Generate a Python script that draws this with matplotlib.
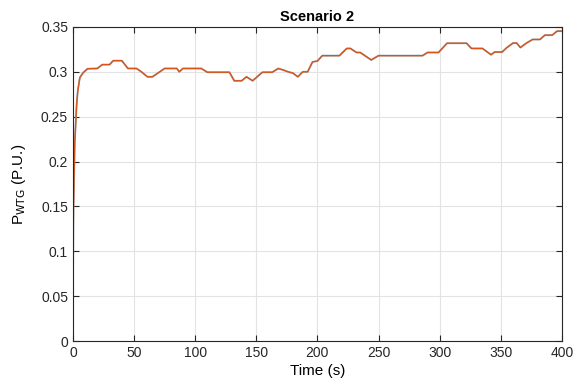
import matplotlib.pyplot as plt

# breakpoints (time in s, power in p.u.)
time_s = [0, 0.5, 1.5, 3, 4, 5.7, 8.4, 12, 20, 24, 30, 33, 40, 45, 52, 56, 61, 65,
          70, 75, 85, 87, 90, 105, 110, 128, 132, 138, 142, 147, 155, 163, 168,
          172, 176, 180, 184, 188, 192, 196, 200, 204, 218, 224, 227, 232, 235,
          244, 250, 286, 290, 299, 306, 322, 326, 335, 342, 345, 351, 355, 360,
          363, 366, 371, 376, 382, 386, 392, 396, 400]
p_wtg = [0.05, 0.15, 0.22, 0.262, 0.279, 0.2936, 0.299, 0.3034, 0.3037, 0.308, 0.308,
         0.3124, 0.3124, 0.3037, 0.3037, 0.300, 0.2944, 0.2944, 0.299, 0.3037, 0.3037,
         0.300, 0.3037, 0.3037, 0.2995, 0.2995, 0.290, 0.290, 0.2944, 0.290, 0.2995,
         0.2995, 0.3037, 0.302, 0.300, 0.2985, 0.2944, 0.300, 0.300, 0.311, 0.312,
         0.318, 0.318, 0.326, 0.326, 0.3215, 0.3215, 0.3132, 0.318, 0.318, 0.3215,
         0.3215, 0.3318, 0.3318, 0.326, 0.326, 0.319, 0.322, 0.322, 0.327, 0.332,
         0.332, 0.327, 0.332, 0.336, 0.336, 0.3408, 0.3408, 0.3453, 0.3453]

x_ticks = [0, 50, 100, 150, 200, 250, 300, 350, 400]
y_ticks = [0, 0.05, 0.1, 0.15, 0.2, 0.25, 0.3, 0.35]

plt.rcParams['font.family'] = ['Liberation Sans', 'DejaVu Sans']
plt.rcParams['font.size'] = 10

fig = plt.figure(figsize=(5.74, 3.79), dpi=100)
ax = fig.add_axes([0.127, 0.100, 0.852, 0.829])

ax.plot(time_s, p_wtg, color='#9a9a9a', linewidth=1.3)
ax.plot(time_s, p_wtg, color='#D95319', linewidth=0.9)

ax.set_xlim(0, 400)
ax.set_ylim(0, 0.35)
ax.set_xticks(x_ticks)
ax.set_yticks(y_ticks)
ax.set_yticklabels(['0', '0.05', '0.1', '0.15', '0.2', '0.25', '0.3', '0.35'])
ax.grid(True, color='#e3e3e3', linewidth=0.8)
ax.set_axisbelow(True)
ax.tick_params(direction='in', top=True, right=True, length=4, colors='#262626',
               labelsize=10)
for side in ax.spines.values():
    side.set_color('#262626')
    side.set_linewidth(0.8)

ax.set_title('Scenario 2', fontweight='bold', fontsize=10.5, pad=4)
ax.set_xlabel('Time (s)', fontsize=11, labelpad=3)
ax.set_ylabel(r'P$_{\mathrm{WTG}}$ (P.U.)', fontsize=11, labelpad=9)

fig.savefig('out.png', dpi=100)
